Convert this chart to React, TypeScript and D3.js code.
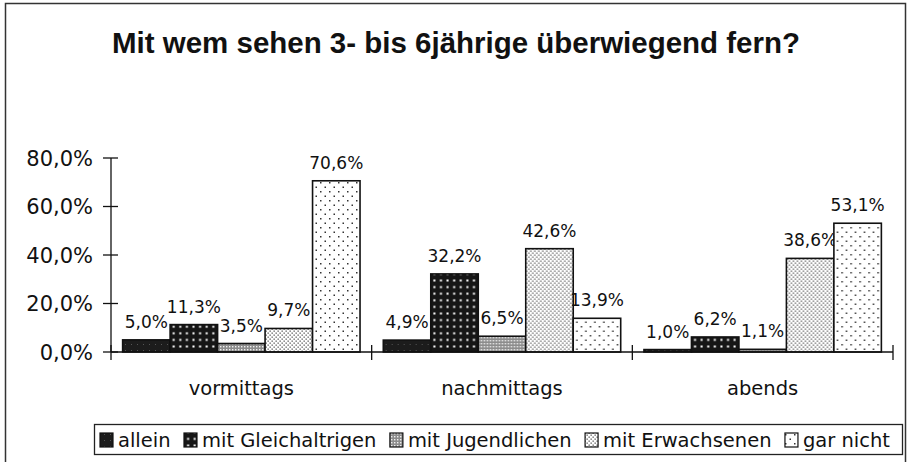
import React from 'react';
import * as d3 from 'd3';

// Daten aus der Vorlage
const categories = ['vormittags', 'nachmittags', 'abends'];
const seriesNames = ['allein', 'mit Gleichaltrigen', 'mit Jugendlichen', 'mit Erwachsenen', 'gar nicht'];
const allein = [5.0, 4.9, 1.0];
const gleichaltrige = [11.3, 32.2, 6.2];
const jugendliche = [3.5, 6.5, 1.1];
const erwachsene = [9.7, 42.6, 38.6];
const garNicht = [70.6, 13.9, 53.1];
const yTicks = [0, 20, 40, 60, 80];

const seriesValues = [allein, gleichaltrige, jugendliche, erwachsene, garNicht];
const patternIds = ['pAllein', 'pGleich', 'pJugend', 'pErw', 'pGar'];

const W = 907;
const H = 462;
const FONT = '"DejaVu Sans", sans-serif';

const de = d3.formatLocale({ decimal: ',', thousands: '.', grouping: [3], currency: ['', '€'] });
const pct = (v: number) => de.format('.1f')(v) + '%';

function measure(text: string, size: number) {
  const c = document.createElement('canvas').getContext('2d');
  if (!c) return text.length * size * 0.55;
  c.font = `${size}px "DejaVu Sans"`;
  return c.measureText(text).width;
}

const Patterns = () => (
  <defs>
    {/* allein: fast schwarz */}
    <pattern id="pAllein" width="6" height="6" patternUnits="userSpaceOnUse">
      <rect width="6" height="6" fill="#1c1c1c" />
      <rect x="2" y="2" width="1" height="1" fill="#555" />
    </pattern>
    {/* mit Gleichaltrigen: schwarz mit weißen Punkten */}
    <pattern id="pGleich" width="6.6" height="6.6" patternUnits="userSpaceOnUse">
      <rect width="6.6" height="6.6" fill="#161616" />
      <rect x="2.3" y="2.3" width="2" height="2" fill="#fff" />
    </pattern>
    {/* mit Jugendlichen: feines Grau */}
    <pattern id="pJugend" width="3" height="3" patternUnits="userSpaceOnUse">
      <rect width="3" height="3" fill="#8c8c8c" />
      <rect x="1" y="1" width="1.4" height="1.4" fill="#f0f0f0" />
    </pattern>
    {/* mit Erwachsenen: dichte dunkle Punkte */}
    <pattern id="pErw" width="4" height="4" patternUnits="userSpaceOnUse">
      <rect width="4" height="4" fill="#fff" />
      <rect x="0.5" y="0.5" width="1.3" height="1.3" fill="#555" />
      <rect x="2.5" y="2.5" width="1.3" height="1.3" fill="#555" />
    </pattern>
    {/* gar nicht: lockere Punkte */}
    <pattern id="pGar" width="9" height="9" patternUnits="userSpaceOnUse">
      <rect width="9" height="9" fill="#fff" />
      <rect x="2" y="2" width="1.5" height="1.5" fill="#333" />
      <rect x="6.5" y="6.5" width="1.5" height="1.5" fill="#333" />
    </pattern>
  </defs>
);

export default function App() {
  const left = 111;
  const right = 893;
  const y0 = 352;
  const yTop = 158;

  const x0 = d3.scaleBand<string>().domain(categories).range([left, right]).paddingInner(0).paddingOuter(0);
  const x1 = d3.scaleBand<string>().domain(seriesNames).range([0, x0.bandwidth()]).paddingInner(0).paddingOuter(0.245);
  const y = d3.scaleLinear().domain([0, 80]).range([y0, yTop]);

  // Legende: Breiten messen, gleichmäßig im Kasten verteilen
  const legSize = 19.5;
  const sw = 14;
  const swGap = 4;
  const legStart = 100;
  const legEnd = 890;
  const widths = seriesNames.map(s => measure(s, legSize));
  const used = widths.reduce((a, w) => a + w + sw + swGap, 0);
  const gap = (legEnd - legStart - used) / (seriesNames.length - 1);
  let cx = legStart;
  const legItems = seriesNames.map((s, i) => {
    const item = { name: s, x: cx, id: patternIds[i] };
    cx += sw + swGap + widths[i] + gap;
    return item;
  });

  const boundaries = [...categories.map(c => x0(c) as number), right];

  return (
    <svg width={W} height={H} style={{ position: 'absolute', left: 0, top: 0, background: '#fff' }}>
      <Patterns />
      <rect x={0} y={0} width={W} height={H} fill="#fff" />
      {/* Rahmen */}
      <rect x={5.5} y={3.5} width={900} height={480} fill="none" stroke="#333" strokeWidth={1.5} />

      <text
        x={112}
        y={53}
        fontFamily='"Liberation Sans", Arial, sans-serif'
        fontWeight="bold"
        fontSize={30}
        textLength={688}
        lengthAdjust="spacingAndGlyphs"
        fill="#111"
      >
        Mit wem sehen 3- bis 6jährige überwiegend fern?
      </text>

      {/* Y-Achse */}
      <line x1={left} x2={left} y1={y(80)} y2={y0} stroke="#111" strokeWidth={1.3} />
      {yTicks.map(t => (
        <g key={t}>
          <line x1={left - 8} x2={left + 7} y1={y(t)} y2={y(t)} stroke="#111" strokeWidth={1.3} />
          <text x={93} y={y(t)} dy="0.36em" textAnchor="end" fontFamily={FONT} fontSize={21} fill="#111">
            {pct(t)}
          </text>
        </g>
      ))}

      {/* Balken */}
      {categories.map((c, ci) => (
        <g key={c} transform={`translate(${x0(c)},0)`}>
          {seriesNames.map((s, si) => {
            const v = seriesValues[si][ci];
            const bx = x1(s) as number;
            const bw = x1.bandwidth();
            return (
              <g key={s}>
                <rect
                  x={bx}
                  y={y(v)}
                  width={bw}
                  height={y0 - y(v)}
                  fill={`url(#${patternIds[si]})`}
                  stroke="#111"
                  strokeWidth={1.6}
                />
                <text x={bx + bw / 2} y={y(v) - 12} textAnchor="middle" fontFamily={FONT} fontSize={17} fill="#111">
                  {pct(v)}
                </text>
              </g>
            );
          })}
          <text
            x={x0.bandwidth() / 2}
            y={395}
            textAnchor="middle"
            fontFamily={FONT}
            fontSize={19.5}
            fill="#111"
          >
            {c}
          </text>
        </g>
      ))}

      {/* X-Achse */}
      <line x1={left} x2={right} y1={y0} y2={y0} stroke="#111" strokeWidth={1.3} />
      {boundaries.map((b, i) => (
        <line key={i} x1={b} x2={b} y1={y0 - 7} y2={y0 + 8} stroke="#111" strokeWidth={1.3} />
      ))}

      {/* Legende */}
      <rect x={94.5} y={424.5} width={808} height={30} fill="#fff" stroke="#222" strokeWidth={1.3} />
      {legItems.map(it => (
        <g key={it.name}>
          <rect x={it.x} y={433} width={sw - 1} height={sw} fill={`url(#${it.id})`} stroke="#111" strokeWidth={1.2} />
          <text x={it.x + sw + swGap} y={447} fontFamily={FONT} fontSize={legSize} fill="#111">
            {it.name}
          </text>
        </g>
      ))}
    </svg>
  );
}
